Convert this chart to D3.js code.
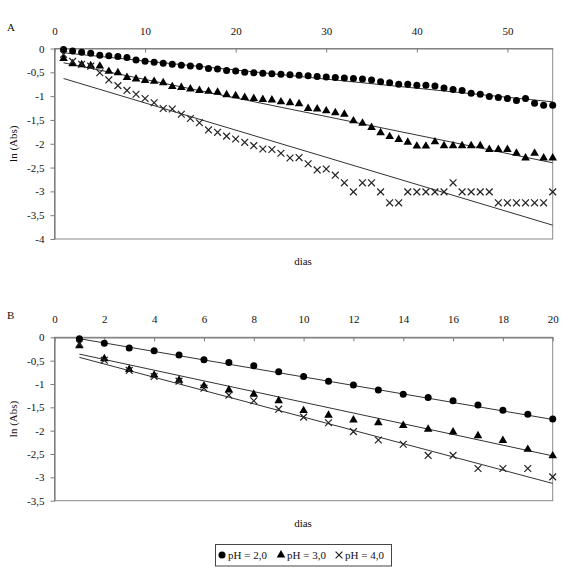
<!DOCTYPE html>
<html><head><meta charset="utf-8">
<script src="https://cdn.jsdelivr.net/npm/d3@7"></script>
<style>
body{margin:0;background:#fff}
svg{display:block}
text{font-family:"Liberation Serif","Times New Roman",serif;fill:#111}
</style>
</head><body>
<svg id="c" width="562" height="567"></svg>
<script>
// ---------- DATA ----------
const seriesNames = ["pH = 2,0", "pH = 3,0", "pH = 4,0"];

// Panel A (days 1..55)
const daysA = d3.range(1, 56);
const ph2A = [-0.02,-0.05,-0.08,-0.10,-0.14,-0.15,-0.17,-0.19,-0.24,-0.27,
              -0.29,-0.31,-0.33,-0.35,-0.37,-0.38,-0.42,-0.43,-0.46,-0.47,
              -0.50,-0.51,-0.52,-0.53,-0.54,-0.55,-0.56,-0.57,-0.59,-0.60,
              -0.61,-0.62,-0.63,-0.64,-0.66,-0.70,-0.72,-0.75,-0.75,-0.77,
              -0.77,-0.79,-0.83,-0.86,-0.88,-0.94,-0.96,-1.01,-1.03,-1.05,
              -1.09,-1.05,-1.15,-1.19,-1.19];
const ph3A = [-0.21,-0.32,-0.34,-0.36,-0.37,-0.48,-0.51,-0.61,-0.64,-0.67,
              -0.69,-0.72,-0.80,-0.82,-0.85,-0.88,-0.90,-0.92,-0.97,-0.99,
              -1.03,-1.05,-1.07,-1.08,-1.12,-1.14,-1.16,-1.26,-1.27,-1.31,
              -1.35,-1.38,-1.52,-1.57,-1.66,-1.77,-1.85,-1.91,-1.97,-2.05,
              -2.05,-1.96,-2.04,-2.04,-2.04,-2.04,-2.04,-2.12,-2.12,-2.12,
              -2.20,-2.30,-2.20,-2.30,-2.30];
const ph4A = [-0.12,-0.27,-0.33,-0.37,-0.51,-0.66,-0.78,-0.88,-0.96,-1.05,
              -1.14,-1.26,-1.27,-1.38,-1.47,-1.56,-1.71,-1.76,-1.84,-1.90,
              -1.97,-2.04,-2.11,-2.12,-2.20,-2.30,-2.29,-2.42,-2.55,-2.53,
              -2.66,-2.82,-3.01,-2.82,-2.82,-3.01,-3.24,-3.24,-3.01,-3.01,
              -3.01,-3.01,-3.01,-2.82,-3.01,-3.01,-3.01,-3.01,-3.24,-3.24,
              -3.24,-3.24,-3.24,-3.24,-3.01];
const fitDaysA = [1, 55];
const fitStartA = [-0.09, -0.30, -0.63];
const fitEndA   = [-1.12, -2.40, -3.71];

// Panel B (days 1..20)
const daysB = d3.range(1, 21);
const ph2B = [-0.03,-0.13,-0.23,-0.29,-0.38,-0.48,-0.54,-0.61,-0.74,-0.84,
              -0.94,-1.02,-1.13,-1.22,-1.29,-1.36,-1.45,-1.56,-1.65,-1.75];
const ph3B = [-0.18,-0.46,-0.69,-0.81,-0.92,-1.04,-1.13,-1.22,-1.36,-1.57,
              -1.67,-1.77,-1.83,-1.89,-1.97,-2.03,-2.11,-2.21,-2.40,-2.54];
const ph4B = [-0.14,-0.49,-0.71,-0.84,-0.94,-1.09,-1.24,-1.36,-1.54,-1.71,
              -1.83,-2.02,-2.20,-2.29,-2.53,-2.53,-2.81,-2.81,-2.81,-2.99];
const fitDaysB = [1, 20];
const fitStartB = [-0.03, -0.36, -0.43];
const fitEndB   = [-1.76, -2.54, -3.13];

// Ticks
const xTicksA = [0, 10, 20, 30, 40, 50];
const yTicksA = [0, -0.5, -1, -1.5, -2, -2.5, -3, -3.5, -4];
const xTicksB = [0, 2, 4, 6, 8, 10, 12, 14, 16, 18, 20];
const yTicksB = [0, -0.5, -1, -1.5, -2, -2.5, -3, -3.5];

// ---------- DRAW ----------
const svg = d3.select("#c");
svg.append("rect").attr("width", 562).attr("height", 567).attr("fill", "#fff");
const fmt = d => String(d).replace(".", ",");
const FS = 11;

function drawMarker(g, type, x, y) {
  if (type === 0) {
    g.append("circle").attr("cx", x).attr("cy", y).attr("r", 3.5).attr("fill", "#000");
  } else if (type === 1) {
    g.append("path").attr("d", d3.symbol(d3.symbolTriangle, 32)())
      .attr("transform", `translate(${x},${y})`).attr("fill", "#000");
  } else {
    const s = 3.4;
    g.append("path").attr("d", `M${x-s},${y-s}L${x+s},${y+s}M${x-s},${y+s}L${x+s},${y-s}`)
      .attr("stroke", "#222").attr("stroke-width", 1.2).attr("fill", "none");
  }
}

function panel(opt) {
  const x = d3.scaleLinear().domain(opt.xDomain).range([54.5, 552.7]);
  const y = d3.scaleLinear().domain(opt.yDomain).range([opt.top, opt.bottom]);
  const g = svg.append("g");

  // frame
  g.append("rect").attr("x", x.range()[0]).attr("y", opt.top)
    .attr("width", x.range()[1] - x.range()[0]).attr("height", opt.bottom - opt.top)
    .attr("fill", "none").attr("stroke", "#8a8a8a").attr("stroke-width", 1);

  // top x axis (ticks inside)
  const ax = g.append("g").attr("transform", `translate(0,${opt.top})`)
    .call(d3.axisTop(x).tickValues(opt.xTicks).tickFormat(fmt).tickSizeInner(-4).tickSizeOuter(0).tickPadding(14));
  // left y axis
  const ay = g.append("g").attr("transform", `translate(${x.range()[0]},0)`)
    .call(d3.axisLeft(y).tickValues(opt.yTicks).tickFormat(fmt).tickSizeInner(4).tickSizeOuter(0).tickPadding(6));
  [ax, ay].forEach(a => {
    a.select(".domain").attr("stroke", "#7a7a7a").attr("stroke-width", 1.2);
    a.selectAll(".tick line").attr("stroke", "#7a7a7a");
    a.selectAll(".tick text").attr("font-size", FS).attr("font-family", '"Liberation Serif",serif').attr("fill", "#111");
  });

  // fit lines
  opt.fitStart.forEach((s, i) => {
    g.append("line")
      .attr("x1", x(opt.fitDays[0])).attr("y1", y(s))
      .attr("x2", x(opt.fitDays[1])).attr("y2", y(opt.fitEnd[i]))
      .attr("stroke", "#333").attr("stroke-width", 1);
  });

  // markers
  const mg = g.append("g");
  opt.series.forEach((vals, si) => {
    vals.forEach((v, i) => drawMarker(mg, si, x(opt.days[i]), y(v)));
  });

  // labels
  g.append("text").attr("x", 7).attr("y", opt.top - 18).attr("font-size", FS).text(opt.label);
  g.append("text").attr("transform", `translate(17,${(opt.top + opt.bottom) / 2}) rotate(-90)`)
    .attr("text-anchor", "middle").attr("font-size", FS).text("ln (Abs)");
  g.append("text").attr("x", 303).attr("y", opt.bottom + 26).attr("text-anchor", "middle")
    .attr("font-size", FS).text("dias");
}

panel({label: "A", xDomain: [0, 55], yDomain: [0, -4], top: 48.5, bottom: 239,
  xTicks: xTicksA, yTicks: yTicksA, days: daysA, series: [ph2A, ph3A, ph4A],
  fitDays: fitDaysA, fitStart: fitStartA, fitEnd: fitEndA});
panel({label: "B", xDomain: [0, 20], yDomain: [0, -3.5], top: 337.3, bottom: 500.7,
  xTicks: xTicksB, yTicks: yTicksB, days: daysB, series: [ph2B, ph3B, ph4B],
  fitDays: fitDaysB, fitStart: fitStartB, fitEnd: fitEndB});

// legend
const lg = svg.append("g");
lg.append("rect").attr("x", 215.5).attr("y", 544.5).attr("width", 176).attr("height", 21.5)
  .attr("fill", "#fff").attr("stroke", "#444").attr("stroke-width", 1);
const legX = [222, 281, 339];
seriesNames.forEach((n, i) => {
  drawMarker(lg, i, legX[i], 555);
  lg.append("text").attr("x", legX[i] + 6).attr("y", 559).attr("font-size", FS).text(n);
});
</script>
</body></html>
